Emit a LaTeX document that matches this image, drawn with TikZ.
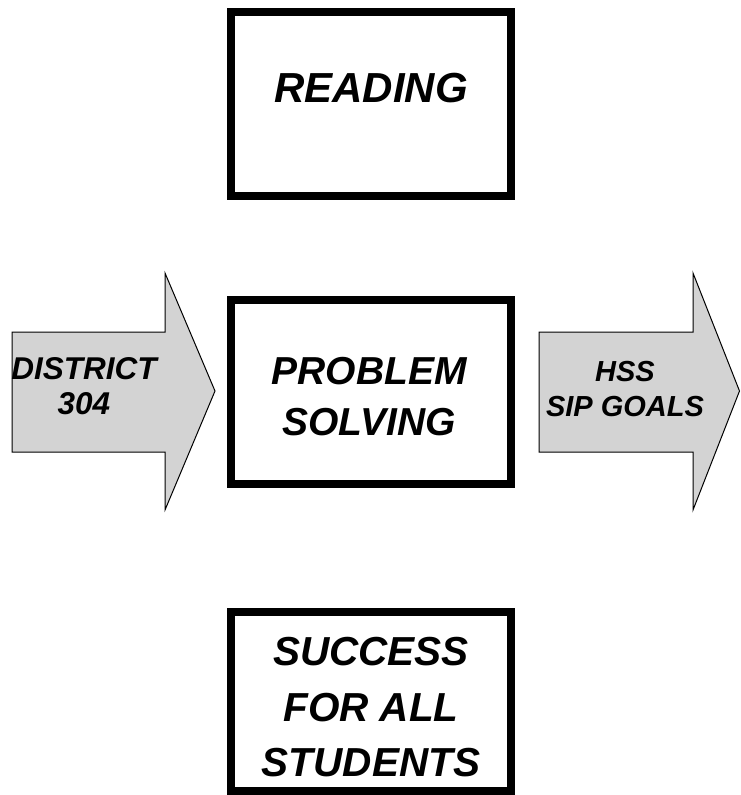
\documentclass[tikz,border=0pt]{standalone}
\usepackage{fontspec}
\setmainfont{Liberation Sans}
\definecolor{arrowgray}{RGB}{211,211,211}
\begin{document}
\begin{tikzpicture}[x=1pt,y=-1pt,
  boxst/.style={draw=black,line width=8pt,fill=white},
  arrowst/.style={draw=black,line width=1pt,fill=arrowgray,line join=miter},
  bigtext/.style={align=center,inner sep=0pt},
  smalltext/.style={align=center,inner sep=0pt}]
\useasboundingbox (0,0) rectangle (740,795);
% boxes
\draw[boxst] (231,12) rectangle (511,196) coordinate (readbox);
\draw[boxst] (231,300) rectangle (511,484) coordinate (probbox);
\draw[boxst] (231,612) rectangle (511,791) coordinate (succbox);
% arrows
\draw[arrowst] (12,332) -- (165,332) -- (165,273) -- (215,391) -- (165,510) -- (165,452) -- (12,452) -- cycle;
\draw[arrowst] (539,332) -- (693,332) -- (693,273) -- (739.5,391) -- (693,510) -- (693,452) -- (539,452) -- cycle;
% texts
\node[bigtext,font=\fontsize{42}{51}\selectfont\bfseries\itshape] (reading) at (371,88) {READING};
\node[bigtext,font=\fontsize{39}{51}\selectfont\bfseries\itshape] (problem) at (369,396.5) {PROBLEM\\SOLVING};
\node[bigtext,font=\fontsize{40.5}{55.5}\selectfont\bfseries\itshape] (success) at (371,707.5) {SUCCESS\\FOR ALL\\STUDENTS};
\node[smalltext,font=\fontsize{31.5}{34.5}\selectfont\bfseries\itshape] (district) at (84,386) {DISTRICT\\304};
\node[smalltext,font=\fontsize{29}{35}\selectfont\bfseries\itshape] (hss) at (625,389.5) {HSS\\SIP GOALS};
\end{tikzpicture}
\end{document}
